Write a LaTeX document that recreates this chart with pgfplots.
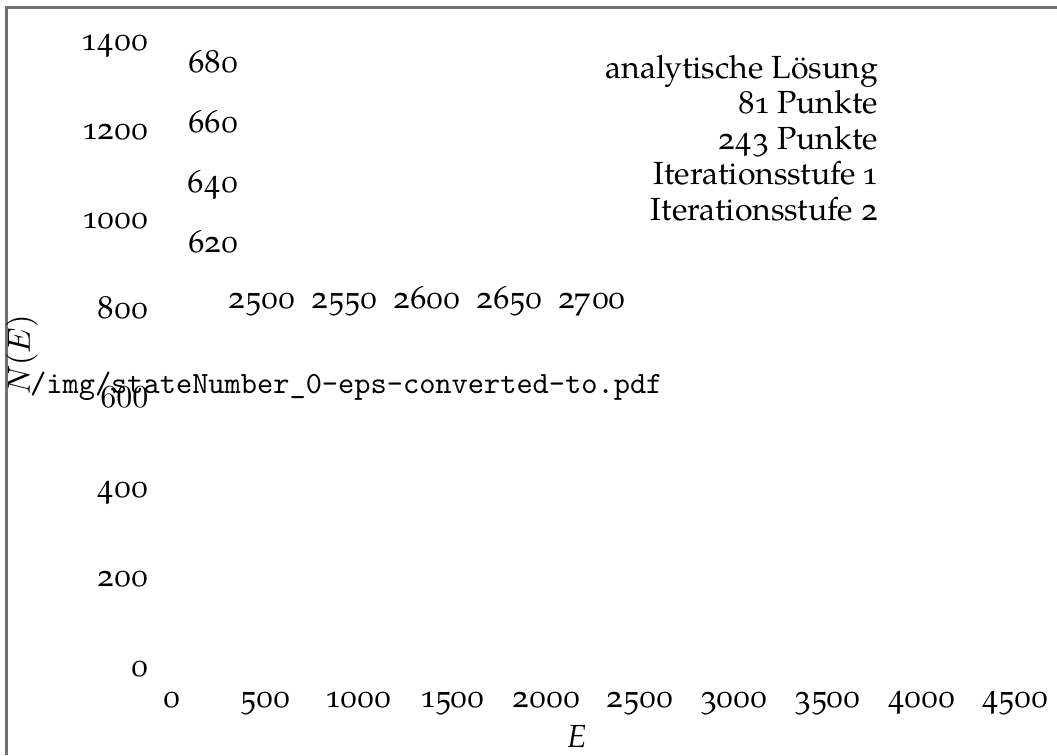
\documentclass[border=0pt]{standalone}
\usepackage{fontspec}
\setmainfont{TeX Gyre Pagella}[Numbers=OldStyle]
\usepackage{pgfplots}
\pgfplotsset{compat=1.18}
\definecolor{framegray}{HTML}{707070}
\begin{document}
\begin{tikzpicture}
\path[use as bounding box] (0pt,0pt) rectangle (330.3125pt,235.9375pt);
\draw[framegray, line width=0.7pt] (330.4pt,233.6pt) -- (2.03pt,233.6pt) -- (2.03pt,-0.1pt);
\pgfplotsset{hidden/.style={scale only axis, clip=false,
  axis line style={draw=none}, tick style={draw=none}, major tick length=0pt,
  minor tick num=0,
  yticklabel style={anchor=base east, inner sep=0pt, xshift=-7.1875pt},
  xticklabel style={anchor=base, inner sep=0pt}}}
\begin{axis}[hidden,
  at={(53.75pt,24.6875pt)}, anchor=south west,
  width=263.4375pt, height=195.625pt,
  xmin=0, xmax=4500, ymin=0, ymax=1400,
  xtick={0,500,1000,1500,2000,2500,3000,3500,4000,4500},
  xticklabels={0,500,1000,1500,2000,2500,3000,3500,4000,4500},
  ytick={0,200,400,600,800,1000,1200,1400},
  yticklabels={0,200,400,{\fontfamily{lmr}\selectfont 600},800,1000,1200,1400},
  xticklabel style={yshift=-9.6875pt},
  xlabel={\textit{E}},
  xlabel style={at={(axis description cs:0.4804,0)}, anchor=base, inner sep=0pt, yshift=-22.3pt},
  ylabel={$N(E)$},
  ylabel style={at={(axis description cs:-0.1780,0.5128)}, anchor=center, inner sep=0pt},
  legend cell align=right,
  legend image code/.code={},
  legend style={draw=none, fill=none, inner sep=0pt, outer sep=0pt,
    at={(axis description cs:0.83749,0.9910)}, anchor=north east,
    row sep=1.6pt, nodes={inner sep=0pt, text height=7pt, text depth=2.5pt}},
]
\addplot[draw=none] coordinates {(0,0)};
\addlegendentry{analytische Lösung}
\addplot[draw=none] coordinates {(0,0)};
\addlegendentry{81 Punkte}
\addplot[draw=none] coordinates {(0,0)};
\addlegendentry{243 Punkte}
\addplot[draw=none] coordinates {(0,0)};
\addlegendentry{Iterationsstufe 1}
\addplot[draw=none] coordinates {(0,0)};
\addlegendentry{Iterationsstufe 2}
\node[anchor=base west, inner sep=0pt, font=\fontsize{9.65}{11}\selectfont\ttfamily] at (axis description cs:-0.1690,0.4505) {/img/stateNumber\_0-eps-converted-to.pdf};
\end{axis}
\begin{axis}[hidden,
  at={(81.875pt,147.8125pt)}, anchor=south west,
  width=103.125pt, height=65.625pt,
  xmin=2500, xmax=2700, ymin=610, ymax=680,
  xtick={2500,2550,2600,2650,2700},
  xticklabels={2500,2550,2600,2650,2700},
  ytick={620,640,660,680},
  yticklabels={620,640,660,680},
  xticklabel style={yshift=-8.125pt},
]
\addplot[draw=none, forget plot] coordinates {(2500,620)};
\end{axis}
\end{tikzpicture}
\end{document}
